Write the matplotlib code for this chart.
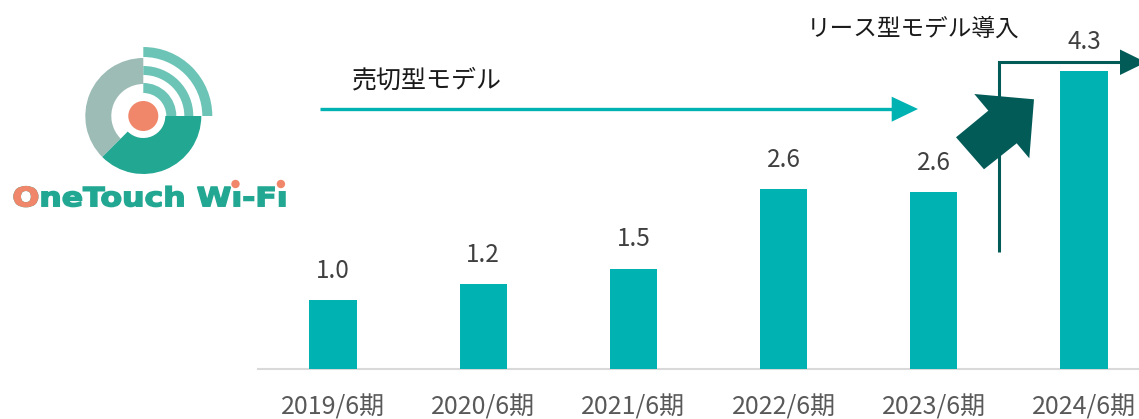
import matplotlib
matplotlib.use('Agg')
import matplotlib.pyplot as plt
import numpy as np
from matplotlib.patches import Wedge, Circle, Polygon, PathPatch
from matplotlib.textpath import TextPath
from matplotlib.font_manager import FontProperties
from matplotlib.transforms import Affine2D

plt.rcParams['font.family'] = ['Noto Sans CJK JP', 'DejaVu Sans']

# data
periods = ['2019/6期', '2020/6期', '2021/6期', '2022/6期', '2023/6期', '2024/6期']
heights = [1.0, 1.23, 1.46, 2.61, 2.57, 4.32]
value_labels = ['1.0', '1.2', '1.5', '2.6', '2.6', '4.3']
sellout_text = '売切型モデル'
lease_text = 'リース型モデル導入'
logo_text = 'OneTouch Wı-Fı'

bar_c = '#00b2b2'
dark_c = '#035b58'
teal_logo = '#22a792'
orange = '#f0866a'

W, H = 1139, 419
fig = plt.figure(figsize=(W / 100, H / 100), dpi=100)

# bar chart
ax = fig.add_axes([258 / W, 49.7 / H, (W - 258) / W, 369.3 / H])
x = np.arange(len(periods))
ax.bar(x, heights, width=0.315, color=bar_c, zorder=3)
ax.set_xlim(-0.5, (W - 333) / 150.2)
ax.set_ylim(0, 369.3 / 69)
for s in ['top', 'left', 'right']:
    ax.spines[s].set_visible(False)
ax.spines['bottom'].set_color('#d9d9d9')
ax.spines['bottom'].set_linewidth(1.5)
ax.set_yticks([])
ax.set_xticks(x, periods, fontsize=18, color='#595959')
ax.tick_params(axis='x', length=0, pad=27.4)
for lab in ax.get_xticklabels():
    lab.set_va('center')
for xi, h, lab in zip(x, heights, value_labels):
    ax.annotate(lab, (xi, h), xytext=(0, 21), textcoords='offset points',
                ha='center', va='center', fontsize=17.5, color='#404040')
ax.patch.set_alpha(0)

# overlay in pixel coords
ov = fig.add_axes([0, 0, 1, 1])
ov.set_xlim(0, W)
ov.set_ylim(0, H)
ov.axis('off')
ov.patch.set_alpha(0)


def Y(y):
    return H - y


# logo
cx, cy = 143.3, Y(116)
ov.add_patch(Wedge((cx, cy), 58, 90, 225, width=26, fc='#9cbcb5', ec='none'))
ov.add_patch(Wedge((cx, cy), 58, 225, 360, width=36, fc=teal_logo, ec='none'))
for r0, r1 in [(59, 69), (41, 50), (23, 33)]:
    ov.add_patch(Wedge((cx, cy), r1, 0, 90, width=r1 - r0, fc='#6cc4b6', ec='none'))
ov.add_patch(Circle((cx, cy), 15, fc=orange, ec='none'))

fp = FontProperties(family='DejaVu Sans', weight='bold')
tp = TextPath((0, 0), logo_text, prop=fp, size=1)
xmin, xmax = tp.vertices[:, 0].min(), tp.vertices[:, 0].max()
cap = TextPath((0, 0), 'T', prop=fp, size=1).vertices[:, 1].max()
tr = Affine2D().translate(-xmin, 0).scale((285 - 12.5) / (xmax - xmin), 19.2 / cap).translate(12.5, Y(206.2))
ov.add_patch(PathPatch(tr.transform_path(tp), fc=teal_logo, ec=teal_logo, lw=1.1))
ov.add_patch(PathPatch(tr.transform_path(TextPath((0, 0), 'O', prop=fp, size=1)),
                       fc=orange, ec=orange, lw=1.1))
for k, ch in enumerate(logo_text):
    if ch == 'ı':
        pre = TextPath((0, 0), logo_text[:k], prop=fp, size=1)
        cur = TextPath((0, 0), logo_text[:k + 1], prop=fp, size=1)
        gv = cur.vertices[len(pre.vertices):]
        gx = (gv[:, 0].min() + gv[:, 0].max()) / 2
        px = tr.transform([(gx, 0)])[0][0]
        ov.add_patch(Circle((px, Y(184)), 4.2, fc=orange, ec='none'))

# sell-out arrow
ov.plot([319.5, 893], [Y(109), Y(109)], color=bar_c, lw=2.4, solid_capstyle='butt')
ov.add_patch(Polygon([(891.7, Y(96.7)), (918, Y(109)), (891.7, Y(121.7))], closed=True, fc=bar_c, ec='none'))
ov.text(351.7, Y(80.5), sellout_text, fontsize=18, color='#1a1a1a', ha='left', va='center')

# lease arrow
ov.plot([999, 999, 1121], [Y(252), Y(62.5), Y(62.5)], color=dark_c, lw=2.2,
        solid_capstyle='butt', solid_joinstyle='miter')
ov.add_patch(Polygon([(1120, Y(49.5)), (1146, Y(62.3)), (1120, Y(75))], closed=True, fc=dark_c, ec='none'))
ov.add_patch(Polygon([(1034, Y(99.3)), (974.3, Y(94)), (988.3, Y(110.7)), (956, Y(137.3)),
                      (984, Y(169.3)), (1016.7, Y(143.3)), (1029.3, Y(158.3))],
                     closed=True, fc=dark_c, ec='none', zorder=5))
ov.text(806.7, Y(29), lease_text, fontsize=17, color='#1a1a1a', ha='left', va='center')

fig.savefig('out.png', dpi=100)
